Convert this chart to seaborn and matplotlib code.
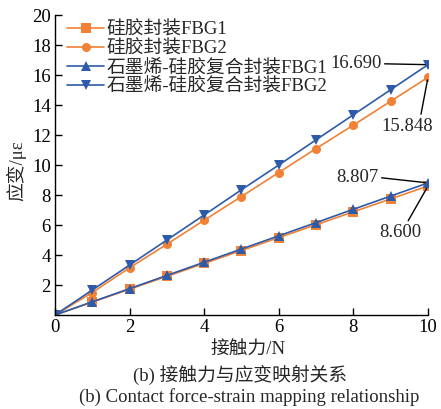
import matplotlib
matplotlib.use("Agg")
import matplotlib.pyplot as plt
import seaborn as sns
import pandas as pd

force = [0, 1, 2, 3, 4, 5, 6, 7, 8, 9, 10]
si_fbg1 = [0, 0.86, 1.72, 2.58, 3.44, 4.30, 5.16, 6.02, 6.88, 7.74, 8.600]
si_fbg2 = [0, 1.50, 3.15, 4.72, 6.32, 7.90, 9.50, 11.10, 12.66, 14.25, 15.848]
gr_fbg1 = [0, 0.88, 1.76, 2.64, 3.52, 4.40, 5.28, 6.16, 7.05, 7.93, 8.807]
gr_fbg2 = [0, 1.67, 3.33, 5.00, 6.67, 8.35, 10.00, 11.68, 13.35, 15.02, 16.690]
series_names = ["硅胶封装FBG1", "硅胶封装FBG2",
                "石墨烯-硅胶复合封装FBG1", "石墨烯-硅胶复合封装FBG2"]
x_ticks = [0, 2, 4, 6, 8, 10]
y_ticks = [2, 4, 6, 8, 10, 12, 14, 16, 18, 20]

sns.set_theme(style="ticks")
plt.rcParams["font.family"] = ["Liberation Serif", "Noto Sans CJK SC", "DejaVu Sans"]
plt.rcParams["axes.unicode_minus"] = False

FS = 13.5
orange = "#F08135"
blue = "#2D5BAA"

df = pd.DataFrame({
    "force": force * 4,
    "strain": si_fbg1 + si_fbg2 + gr_fbg1 + gr_fbg2,
    "series": sum([[n] * len(force) for n in series_names], []),
})

fig = plt.figure(figsize=(4.41, 4.09), dpi=100)
ax = fig.add_axes([0.1247, 0.2298, 0.8458, 0.7335])

palette = dict(zip(series_names, [orange, orange, blue, blue]))
markers = dict(zip(series_names, ["s", "o", "^", "v"]))
sns.lineplot(data=df, x="force", y="strain", hue="series", style="series",
             palette=palette, markers=markers, dashes=False, markersize=6.5,
             markeredgewidth=0, linewidth=1.2, ax=ax, hue_order=series_names,
             style_order=series_names)

ax.set_xlim(0, 10)
ax.set_ylim(0, 20)
ax.set_xticks(x_ticks)
ax.set_yticks(y_ticks)
ax.tick_params(direction="in", length=5, width=1, labelsize=FS, colors="black", pad=3)
for s in ["top", "right"]:
    ax.spines[s].set_visible(False)
for s in ["left", "bottom"]:
    ax.spines[s].set_color("black")
    ax.spines[s].set_linewidth(1)

ax.set_xlabel("接触力/N", fontsize=FS)
ax.xaxis.set_label_coords(0.517, -0.09)
ax.set_ylabel("应变/με", fontsize=FS)
ax.yaxis.set_label_coords(-0.077, 0.48)

ax.legend(loc="upper left", frameon=False, fontsize=FS,
          handlelength=2.0, handletextpad=0.1, labelspacing=0.08,
          borderaxespad=0.0, borderpad=0.1, bbox_to_anchor=(0.027, 0.985))

def line_props(rel):
    return dict(arrowstyle="-", color="black", lw=1, shrinkA=0, shrinkB=2,
                relpos=rel)

ax.annotate(f"{gr_fbg2[-1]:.3f}", xy=(force[-1], gr_fbg2[-1]), xytext=(8.75, 16.75),
            fontsize=FS, ha="right", va="center", arrowprops=line_props((1, 0.5)))
ax.annotate(f"{si_fbg2[-1]:.3f}", xy=(force[-1], si_fbg2[-1]), xytext=(9.45, 12.6),
            fontsize=FS, ha="center", va="center", arrowprops=line_props((0.75, 1)))
ax.annotate(f"{gr_fbg1[-1]:.3f}", xy=(force[-1], gr_fbg1[-1]), xytext=(8.67, 9.17),
            fontsize=FS, ha="right", va="center", arrowprops=line_props((1, 0.5)))
ax.annotate(f"{si_fbg1[-1]:.3f}", xy=(force[-1], si_fbg1[-1]), xytext=(9.25, 5.5),
            fontsize=FS, ha="center", va="center", arrowprops=line_props((0.65, 1)))

fig.text(0.545, 1 - 375 / 409, "(b) 接触力与应变映射关系", ha="center", va="center",
         fontsize=FS)
fig.text(0.565, 1 - 397 / 409, "(b) Contact force-strain mapping relationship",
         ha="center", va="center", fontsize=FS)

fig.savefig("out.png", dpi=100, facecolor="white")
